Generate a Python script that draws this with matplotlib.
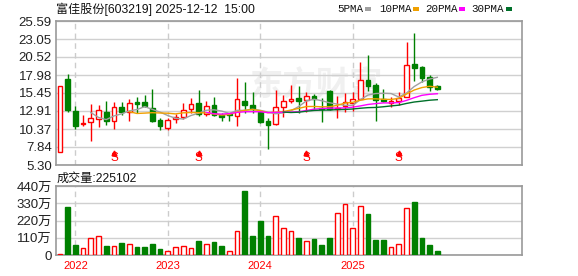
import numpy as np
import pandas as pd
import matplotlib
matplotlib.use('Agg')
import matplotlib.pyplot as plt
from matplotlib.patches import Rectangle
import matplotlib.transforms as mtrans

plt.rcParams['font.family'] = ['Liberation Sans', 'Noto Sans CJK SC']

# monthly K-line, 富佳股份 603219
months = pd.period_range('2021-11', '2025-12', freq='M')
opens = [7.08, 17.42, 12.91, 11.03, 11.41, 11.83, 12.72, 11.45, 13.47, 12.81,
         14.18, 14.18, 13.33, 11.64, 10.56, 11.73, 12.11, 13.14, 14.04, 12.44,
         13.75, 12.34, 12.44, 12.25, 14.32, 13.71, 12.81, 11.50, 11.03, 13.52,
         14.36, 14.79, 14.46, 15.07, 13.38, 15.73, 13.14, 13.57, 14.08, 14.65,
         17.28, 16.57, 14.55, 14.08, 14.37, 14.93, 19.53, 19.06, 17.65, 16.39]
highs = [16.50, 18.12, 13.61, 12.34, 13.85, 13.75, 14.32, 14.22, 14.13, 14.60,
         14.88, 15.21, 16.01, 11.97, 11.88, 12.44, 13.99, 14.69, 15.87, 14.27,
         14.88, 12.58, 12.67, 17.60, 17.04, 15.63, 13.05, 11.97, 15.87, 15.16,
         16.57, 16.43, 15.63, 15.30, 14.74, 15.87, 15.02, 15.49, 15.60, 19.81,
         20.80, 16.81, 15.96, 14.84, 15.63, 22.63, 23.95, 19.25, 17.94, 16.53]
lows = [7.08, 12.72, 10.37, 10.84, 8.73, 10.70, 10.98, 10.42, 12.34, 11.55,
        12.58, 13.52, 11.31, 10.23, 10.23, 11.26, 11.73, 12.58, 12.25, 12.25,
        12.20, 11.45, 11.50, 10.84, 12.67, 12.67, 11.17, 7.51, 10.94, 12.11,
        14.08, 12.67, 12.81, 13.19, 11.41, 13.05, 11.88, 12.81, 12.95, 14.46,
        15.78, 11.55, 14.23, 13.43, 13.76, 14.84, 17.18, 17.00, 15.68, 15.87]
closes = [16.43, 13.05, 10.84, 11.26, 11.88, 13.00, 11.50, 13.42, 12.72, 13.99,
          13.94, 13.57, 11.45, 10.80, 11.59, 12.02, 13.00, 13.94, 12.44, 13.66,
          12.34, 12.11, 12.30, 14.55, 13.71, 13.14, 11.36, 10.98, 13.42, 14.32,
          14.60, 14.36, 14.97, 14.60, 13.24, 13.20, 13.38, 14.13, 14.55, 17.23,
          16.48, 14.46, 14.32, 14.37, 14.74, 19.34, 19.02, 17.61, 16.34, 15.96]
# volume in 万
volumes = [8.5, 306.7, 65.6, 46.5, 110, 122.7, 59.2, 59.2, 78.3, 71.9,
           52.9, 52.9, 71.9, 40.2, 25.4, 52.9, 59.2, 46.5, 91, 71.9,
           84.6, 59.2, 25.4, 154.4, 410.4, 122.7, 217.9, 122.7, 247.5, 171.3,
           152.3, 110, 88.8, 103.7, 65.6, 110, 266.5, 323.7, 171.3, 311,
           262.3, 97.3, 97.3, 50.8, 69.8, 298.3, 338.5, 110, 65.6, 22.5]
price_ticks = [5.30, 7.84, 10.37, 12.91, 15.45, 17.98, 20.52, 23.05, 25.59]
price_labels = ['5.30', '7.84', '10.37', '12.91', '15.45', '17.98', '20.52', '23.05', '25.59']
vol_ticks = [0, 110, 220, 330, 440]
vol_labels = ['0', '110万', '220万', '330万', '440万']
s_marks = ['2022-06', '2023-05', '2024-07', '2025-07']
ma_periods = [5, 10, 20, 30]
ma_names = ['5PMA', '10PMA', '20PMA', '30PMA']
ma_colors = ['#a0a0a0', '#f0a000', '#ff00ff', '#00702a']
title = '富佳股份[603219] 2025-12-12  15:00'
vol_title = '成交量:225102'

RED = '#ff0000'
GREEN = '#008000'
GRID = '#d0d0d0'

W, H = 578, 276
fig = plt.figure(figsize=(W / 100, H / 100), dpi=100)
ax = fig.add_axes([56 / W, 1 - 165 / H, 466 / W, 144 / H])
axv = fig.add_axes([56 / W, 1 - 255 / H, 466 / W, 69 / H])

n = len(closes)
x = np.arange(n)
bw = 0.6
for i in range(n):
    o, h, l, c = opens[i], highs[i], lows[i], closes[i]
    up = c >= o
    col = RED if up else GREEN
    ax.vlines(i, l, h, color=col, lw=1, zorder=3)
    ax.add_patch(Rectangle((i - bw / 2, min(o, c)), bw, max(abs(c - o), 0.05),
                           facecolor='white' if up else col, edgecolor=col,
                           lw=1, zorder=4))
    prev = closes[i - 1] if i > 0 else o
    vup = c >= prev
    vcol = RED if vup else GREEN
    axv.add_patch(Rectangle((i - bw / 2, 0), bw, volumes[i],
                            facecolor='white' if vup else vcol, edgecolor=vcol,
                            lw=1, zorder=3))

cs = pd.Series(closes)
for p, col in zip(ma_periods, ma_colors):
    ax.plot(x, cs.rolling(p).mean(), color=col, lw=1, zorder=5)

year_pos = [i for i, m in enumerate(months) if m.month == 1]
year_lab = [str(months[i].year) for i in year_pos]

for a in (ax, axv):
    a.set_xlim(-0.52, 60)
    for p in year_pos:
        a.axvline(p, color='#cccccc', ls=(0, (4, 3)), lw=1, zorder=1)
    a.yaxis.grid(True, color=GRID, lw=1, zorder=1)
    a.set_axisbelow(True)
    for s in a.spines.values():
        s.set_color('#999999')
        s.set_linewidth(1.2)
    a.tick_params(length=0, labelsize=9.5, labelcolor='#222222', pad=3)

ax.set_ylim(price_ticks[0], price_ticks[-1])
ax.set_yticks(price_ticks)
ax.set_yticklabels(price_labels)
ax.set_xticks([])

axv.set_ylim(0, 440)
axv.set_yticks(vol_ticks)
axv.set_yticklabels(vol_labels)
axv.set_xticks(year_pos)
axv.set_xticklabels(year_lab, color=RED, fontsize=8)
axv.tick_params(axis='x', pad=4)

# S markers
trans = mtrans.blended_transform_factory(ax.transData, ax.transAxes)
for m in s_marks:
    i = months.get_loc(pd.Period(m, freq='M'))
    ax.text(i, 0.005, 'S', color=RED, fontsize=8.5, ha='center', va='bottom',
            transform=trans, zorder=6)
    ax.plot([i], [0.08], marker='^', color=RED, markersize=3.5, transform=trans, zorder=6)

# watermark
ax.text(316 / W, 1 - 86 / H, '东方财富', transform=fig.transFigure, fontsize=24,
        color='#f0f0f0', ha='center', va='center', zorder=0.5,
        family='Noto Sans CJK SC', fontweight='bold')

fig.text(56 / W, 1 - 9 / H, title, fontsize=8.7, va='center', ha='left', color='#111111')
fig.text(57 / W, 1 - 179 / H, vol_title, fontsize=8.7, va='center', ha='left', color='#111111')

# legend
text_x = [337, 379, 425, 471]
mark_x = [365, 413, 459, 506]
for name, col, tx, mx in zip(ma_names, ma_colors, text_x, mark_x):
    fig.text(tx / W, 1 - 9 / H, name, fontsize=7.8, va='center', ha='left',
             color='#111111', family='Liberation Mono')
    fig.patches.append(Rectangle((mx / W, 1 - 10.5 / H), 6 / W, 3 / H,
                                 facecolor=col, edgecolor='none',
                                 transform=fig.transFigure, figure=fig))

fig.savefig('out.png', dpi=100)
